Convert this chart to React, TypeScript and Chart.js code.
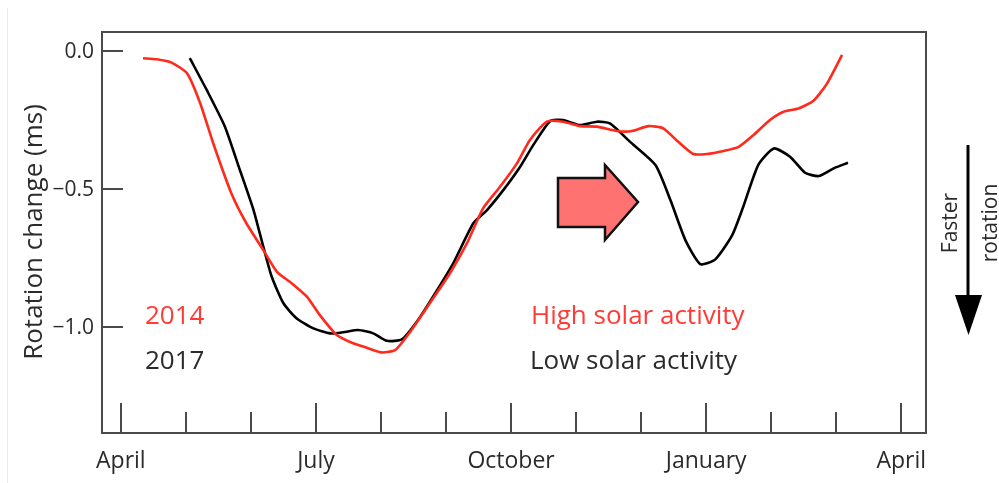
import React, { useEffect, useRef } from "react";
import { Chart, registerables } from "chart.js";

Chart.register(...registerables);

// Months since April (x), rotation change in ms (y)
const months2014 = [0.34, 0.55, 0.78, 1.02, 1.22, 1.42, 1.70, 1.93, 2.19, 2.40, 2.63, 2.86, 3.06, 3.32, 3.57, 3.78, 4.01, 4.22, 4.45, 4.75, 5.06, 5.32, 5.57, 5.83, 6.09, 6.29, 6.55, 6.80, 7.06, 7.32, 7.63, 7.86, 8.11, 8.34, 8.57, 8.80, 9.01, 9.27, 9.50, 9.73, 9.98, 10.19, 10.42, 10.65, 10.86, 11.09];
const values2014 = [-0.026, -0.030, -0.042, -0.081, -0.189, -0.334, -0.516, -0.624, -0.721, -0.80, -0.842, -0.89, -0.957, -1.029, -1.059, -1.075, -1.092, -1.083, -1.017, -0.914, -0.805, -0.697, -0.570, -0.492, -0.407, -0.322, -0.256, -0.256, -0.272, -0.274, -0.290, -0.290, -0.272, -0.280, -0.329, -0.373, -0.373, -0.362, -0.347, -0.304, -0.250, -0.220, -0.208, -0.180, -0.117, -0.014];

const months2017 = [1.06, 1.32, 1.60, 1.83, 2.04, 2.19, 2.32, 2.50, 2.70, 2.96, 3.22, 3.42, 3.65, 3.88, 4.09, 4.32, 4.55, 4.80, 5.11, 5.42, 5.63, 5.88, 6.14, 6.34, 6.60, 6.80, 7.06, 7.32, 7.52, 7.83, 8.22, 8.45, 8.68, 8.91, 9.14, 9.40, 9.57, 9.80, 10.04, 10.29, 10.52, 10.73, 10.96, 11.18];
const values2017 = [-0.026, -0.141, -0.274, -0.431, -0.576, -0.709, -0.818, -0.914, -0.968, -1.005, -1.023, -1.019, -1.011, -1.023, -1.050, -1.045, -0.981, -0.890, -0.769, -0.624, -0.576, -0.504, -0.419, -0.341, -0.254, -0.250, -0.268, -0.256, -0.262, -0.329, -0.413, -0.540, -0.685, -0.772, -0.755, -0.667, -0.564, -0.413, -0.353, -0.383, -0.441, -0.453, -0.425, -0.405];

const monthTicks = [0, 1, 2, 3, 4, 5, 6, 7, 8, 9, 10, 11, 12];
const majorMonths = [0, 3, 6, 9, 12];
const majorLabels = ["April", "July", "October", "January", "April"];
const yTickValues = [0, -0.5, -1.0];
const yTickLabels = ["0.0", "\u22120.5", "\u22121.0"];

const RED_LINE = "#ff2a1c";
const RED_TEXT = "#ff3b36";
const FRAME = "#4a4a4a";
const FONT = "'Open Sans', 'Noto Sans', sans-serif";

const decorPlugin = {
  id: "decor",
  afterDatasetsDraw(chart: any) {
    const { ctx, chartArea, scales } = chart;
    const xs = scales.x;
    const ys = scales.y;
    const { left, right, top, bottom } = chartArea;
    ctx.save();

    // faint outer edge
    ctx.strokeStyle = "#ececec";
    ctx.lineWidth = 1;
    ctx.beginPath();
    ctx.moveTo(7.5, 8);
    ctx.lineTo(7.5, 483);
    ctx.stroke();

    // frame
    ctx.strokeStyle = FRAME;
    ctx.lineWidth = 2;
    ctx.strokeRect(left, top, right - left, bottom - top);

    // y ticks (inside)
    ctx.lineWidth = 2;
    ctx.fillStyle = "#2b2b2b";
    ctx.font = `21px ${FONT}`;
    ctx.textAlign = "right";
    ctx.textBaseline = "middle";
    yTickValues.forEach((v, i) => {
      const y = Math.round(ys.getPixelForValue(v));
      ctx.beginPath();
      ctx.moveTo(left, y);
      ctx.lineTo(left + 21, y);
      ctx.stroke();
      ctx.fillText(yTickLabels[i], left - 8, y + 1);
    });

    // x ticks (inside, upward)
    monthTicks.forEach((m) => {
      const x = Math.round(xs.getPixelForValue(m));
      const len = majorMonths.includes(m) ? 30 : 21;
      ctx.beginPath();
      ctx.moveTo(x, bottom);
      ctx.lineTo(x, bottom - len);
      ctx.stroke();
    });
    ctx.font = `23px ${FONT}`;
    ctx.textAlign = "center";
    ctx.textBaseline = "alphabetic";
    majorMonths.forEach((m, i) => {
      ctx.fillText(majorLabels[i], xs.getPixelForValue(m), 468);
    });

    // y title
    ctx.save();
    ctx.translate(42, 232);
    ctx.rotate(-Math.PI / 2);
    ctx.font = `26px ${FONT}`;
    ctx.textAlign = "center";
    ctx.textBaseline = "alphabetic";
    ctx.fillStyle = "#2b2b2b";
    ctx.fillText("Rotation change (ms)", 0, 0);
    ctx.restore();

    // year labels
    ctx.font = `26px ${FONT}`;
    ctx.textAlign = "left";
    ctx.fillStyle = RED_TEXT;
    ctx.fillText("2014", 145, 324);
    ctx.fillText("High solar activity", 531, 324);
    ctx.fillStyle = "#2b2b2b";
    ctx.fillText("2017", 145, 369);
    ctx.fillText("Low solar activity", 530, 369);

    // pink block arrow
    ctx.beginPath();
    ctx.moveTo(558, 178);
    ctx.lineTo(605, 178);
    ctx.lineTo(605, 165);
    ctx.lineTo(638, 202);
    ctx.lineTo(605, 240);
    ctx.lineTo(605, 227);
    ctx.lineTo(558, 227);
    ctx.closePath();
    ctx.fillStyle = "#ff7272";
    ctx.fill();
    ctx.lineWidth = 2.5;
    ctx.lineJoin = "miter";
    ctx.strokeStyle = "#111";
    ctx.stroke();

    // right-side arrow
    ctx.strokeStyle = "#000";
    ctx.lineWidth = 3;
    ctx.beginPath();
    ctx.moveTo(968, 145);
    ctx.lineTo(968, 300);
    ctx.stroke();
    ctx.fillStyle = "#000";
    ctx.beginPath();
    ctx.moveTo(955, 295);
    ctx.lineTo(982, 295);
    ctx.lineTo(968.5, 335);
    ctx.closePath();
    ctx.fill();

    ctx.font = `21px ${FONT}`;
    ctx.textAlign = "center";
    ctx.textBaseline = "alphabetic";
    ctx.fillStyle = "#2b2b2b";
    ctx.save();
    ctx.translate(957, 223);
    ctx.rotate(-Math.PI / 2);
    ctx.fillText("Faster", 0, 0);
    ctx.restore();
    ctx.save();
    ctx.translate(997, 223);
    ctx.rotate(-Math.PI / 2);
    ctx.fillText("rotation", 0, 0);
    ctx.restore();

    ctx.restore();
  },
};

export default function App() {
  const canvasRef = useRef<HTMLCanvasElement | null>(null);

  useEffect(() => {
    const canvas = canvasRef.current;
    if (!canvas) return;
    const chart = new Chart(canvas, {
      type: "line",
      data: {
        datasets: [
          {
            label: "2014",
            data: months2014.map((m, i) => ({ x: m, y: values2014[i] })),
            borderColor: RED_LINE,
            borderWidth: 2.6,
            pointRadius: 0,
            tension: 0.2,
            fill: false,
          },
          {
            label: "2017",
            data: months2017.map((m, i) => ({ x: m, y: values2017[i] })),
            borderColor: "#000000",
            borderWidth: 2.6,
            pointRadius: 0,
            tension: 0.2,
            fill: false,
          },
        ],
      },
      options: {
        animation: false,
        responsive: false,
        maintainAspectRatio: false,
        devicePixelRatio: 1,
        layout: { padding: { left: 102, top: 32, right: 73, bottom: 50 } },
        plugins: { legend: { display: false }, tooltip: { enabled: false } },
        scales: {
          x: { type: "linear", min: -0.29, max: 12.38, display: false },
          y: { type: "linear", min: -1.384, max: 0.069, display: false },
        },
      },
      plugins: [decorPlugin],
    });
    return () => chart.destroy();
  }, []);

  return (
    <div style={{ position: "absolute", left: 0, top: 0, width: 999, height: 483, background: "#fff" }}>
      <canvas ref={canvasRef} width={999} height={483} style={{ display: "block" }} />
    </div>
  );
}
